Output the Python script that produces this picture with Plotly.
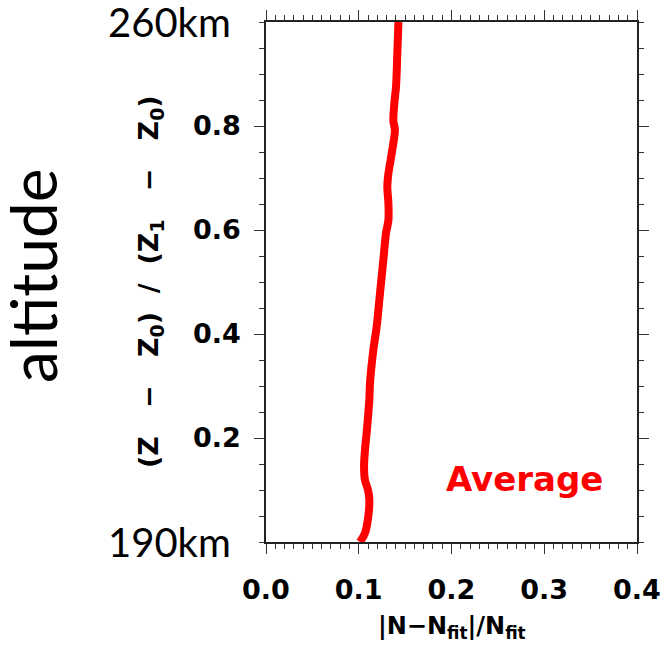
import plotly.graph_objects as go

# Data
alt_norm = [0.0, 0.017, 0.049, 0.081, 0.100, 0.119, 0.145, 0.177, 0.210, 0.241,
            0.273, 0.305, 0.369, 0.414, 0.478, 0.542, 0.594, 0.619, 0.651, 0.683,
            0.709, 0.735, 0.767, 0.792, 0.810, 0.844, 0.876, 0.940, 1.0]
rel_err = [0.1013, 0.1067, 0.1103, 0.1114, 0.1100, 0.1067, 0.1057, 0.1067, 0.1085, 0.1100,
           0.1114, 0.1121, 0.1157, 0.1193, 0.1229, 0.1265, 0.1294, 0.1320, 0.1320, 0.1308,
           0.1320, 0.1344, 0.1373, 0.1390, 0.1373, 0.1384, 0.1402, 0.1416, 0.1428]

y_tickvals = [0.2, 0.4, 0.6, 0.8]
y_ticktext = ["0.2", "0.4", "0.6", "0.8"]
x_tickvals = [0.0, 0.1, 0.2, 0.3, 0.4]
x_ticktext = ["0.0", "0.1", "0.2", "0.3", "0.4"]
alt_labels = {0.0: "190km", 1.0: "260km"}

GOTHIC = "DejaVu Sans"
HUMAN = "Lato"
NB = "\u00a0"

fig = go.Figure()
fig.add_trace(go.Scatter(
    x=rel_err, y=alt_norm, mode="lines",
    line=dict(color="#ff0000", width=8, shape="spline", smoothing=0.8),
    showlegend=False, hoverinfo="skip",
))

axis_common = dict(
    showgrid=False, zeroline=False, showline=True, linecolor="#222222", linewidth=1.5,
    mirror="allticks", ticks="outside", ticklen=10, tickwidth=1.2, tickcolor="#333333",
    automargin=False,
)

fig.update_xaxes(
    range=[0, 0.4], tickvals=x_tickvals, ticktext=x_ticktext,
    tickfont=dict(family=GOTHIC, size=27, color="black", weight="bold"),
    ticklabelstandoff=13,
    minor=dict(dtick=0.01, ticks="outside", ticklen=5, tickcolor="#333333", tickwidth=1),
    **axis_common,
)
fig.update_yaxes(
    range=[0, 1], tickvals=y_tickvals, ticktext=y_ticktext,
    tickfont=dict(family=GOTHIC, size=27, color="black", weight="bold"),
    ticklabelstandoff=8,
    minor=dict(tickvals=[0.05 * i for i in range(21)], ticks="outside", ticklen=5,
               tickcolor="#333333", tickwidth=1),
    **axis_common,
)

annotations = []
for val, txt in alt_labels.items():
    annotations.append(dict(
        x=0, xref="paper", xanchor="right", xshift=-33,
        y=val, yref="y", yanchor="middle",
        text=txt, showarrow=False,
        font=dict(family=HUMAN, size=40, color="black"),
    ))
annotations.append(dict(
    x=0, xref="paper", xanchor="center", xshift=-234,
    y=0.5, yref="paper", yanchor="middle", yshift=6,
    text="altitude", textangle=-90, showarrow=False,
    font=dict(family=HUMAN, size=64, color="black"),
))
ytitle = ("(Z" + NB * 3 + "−" + NB * 3 + "Z<sub>0</sub>)" + NB * 2 + "/" + NB * 2 +
          "(Z<sub>1</sub>" + NB * 3 + "−" + NB * 3 + "Z<sub>0</sub>)")
annotations.append(dict(
    x=0, xref="paper", xanchor="center", xshift=-116,
    y=0.5, yref="paper", yanchor="middle",
    text=ytitle, textangle=-90, showarrow=False,
    font=dict(family=GOTHIC, size=27, color="black", weight="bold"),
))
annotations.append(dict(
    x=0.5, xref="paper", xanchor="center", y=-0.165, yref="paper", yanchor="middle",
    text="|N−N<sub>fit</sub>|/N<sub>fit</sub>", showarrow=False,
    font=dict(family=GOTHIC, size=24, color="black", weight="bold"),
))
annotations.append(dict(
    x=0.2787, xref="x", xanchor="center", y=0.121, yref="y", yanchor="middle",
    text="Average", showarrow=False,
    font=dict(family=GOTHIC, size=34, color="#ff0000", weight="bold"),
))

fig.update_layout(
    width=663, height=649,
    margin=dict(l=266, r=26, t=22, b=107),
    paper_bgcolor="white", plot_bgcolor="white",
    annotations=annotations,
)

fig.write_html("out.html")
